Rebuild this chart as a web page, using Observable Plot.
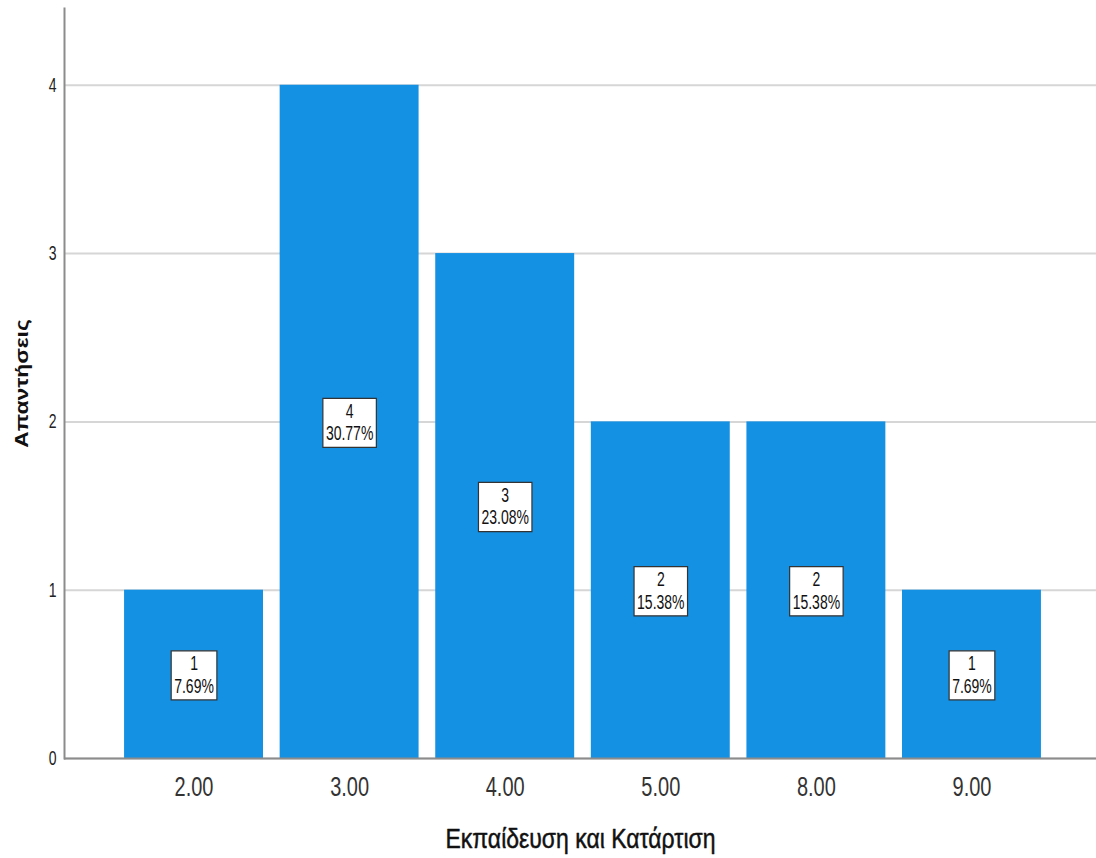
<!DOCTYPE html>
<html>
<head>
<meta charset="utf-8">
<script src="https://cdn.jsdelivr.net/npm/d3@7"></script>
<script src="https://cdn.jsdelivr.net/npm/@observablehq/plot@0.6"></script>
<style>
  body { margin: 0; background: #fff; }
  #chart svg { display: block; }
</style>
</head>
<body>
<div id="chart"></div>
<script>
// ---- data ----
const categories = ["2.00", "3.00", "4.00", "5.00", "8.00", "9.00"];
const counts = [1, 4, 3, 2, 2, 1];
const percents = ["7.69%", "30.77%", "23.08%", "15.38%", "15.38%", "7.69%"];
const yTicks = [0, 1, 2, 3, 4];
const xTitle = "Εκπαίδευση και Κατάρτιση";
const yTitle = "Απαντήσεις";

const data = categories.map((c, i) => ({ cat: c, n: counts[i], pct: percents[i] }));

const FONT = "'Liberation Sans', Arial, sans-serif";

const svg = Plot.plot({
  width: 1096,
  height: 858,
  marginLeft: 64,
  marginRight: 0,
  marginTop: 8,
  marginBottom: 100,
  style: { fontFamily: FONT, background: "#fff", color: "#222" },
  x: { domain: categories, range: [64, 1101], paddingInner: 0.107, paddingOuter: 0.386, round: false },
  y: { domain: [0, 4.456] },
  marks: [
    Plot.gridY(yTicks, { stroke: "#d6d6d6", strokeOpacity: 1, strokeWidth: 2 }),
    Plot.barY(data, { x: "cat", y: "n", fill: "#1591e4" }),
    Plot.ruleY([0], { stroke: "#8c8c8c", strokeWidth: 2 }),
    Plot.frame({ anchor: "left", stroke: "#8c8c8c", strokeWidth: 2 }),
    Plot.axisY(yTicks, { tickSize: 0, tickPadding: 8, fontSize: 14, label: null, tickFormat: d => String(d), fill: "#222" }),
    Plot.axisX({ tickSize: 0, tickPadding: 20, fontSize: 20, label: null, fill: "#333" }),
    // text marks (order matters for post-processing): y title, x title, value labels
    Plot.text([yTitle], { frameAnchor: "left", dx: -43, rotate: -90, textAnchor: "middle", lineAnchor: "middle", fontSize: 19, fontWeight: "bold", fill: "#111" }),
    Plot.text([xTitle], { frameAnchor: "bottom", dy: 81, textAnchor: "middle", lineAnchor: "middle", fontSize: 23, fill: "#111", stroke: "#111", strokeWidth: 0.4 }),
    Plot.text(data, { x: "cat", y: d => d.n / 2, text: d => `${d.n}\n${d.pct}`, fontSize: 14, lineHeight: 1.1, fill: "#111" })
  ]
});

document.getElementById("chart").appendChild(svg);

const NS = "http://www.w3.org/2000/svg";

// vertically stretch text (about its own centre) to mimic the tall, condensed look of the reference
function stretch(textEls, ky, box) {
  textEls.forEach(t => {
    const g = document.createElementNS(NS, "g");
    t.parentNode.insertBefore(g, t);
    g.appendChild(t);
    const bb = g.getBBox();
    const cx = bb.x + bb.width / 2, cy = bb.y + bb.height / 2;
    if (box) {
      const r = document.createElementNS(NS, "rect");
      r.setAttribute("x", bb.x - box.px);
      r.setAttribute("y", bb.y - box.pt);
      r.setAttribute("width", bb.width + 2 * box.px);
      r.setAttribute("height", bb.height + box.pt + box.pb);
      r.setAttribute("fill", "#fff");
      r.setAttribute("stroke", "#333");
      r.setAttribute("stroke-width", 1.2);
      r.setAttribute("vector-effect", "non-scaling-stroke");
      g.insertBefore(r, t);
    }
    g.setAttribute("transform", `translate(${cx},${cy}) scale(1,${ky}) translate(${-cx},${-cy})`);
  });
}

const textGroups = svg.querySelectorAll('g[aria-label="text"]');
stretch(svg.querySelectorAll('g[aria-label="y-axis tick label"] text'), 1.4);
stretch(svg.querySelectorAll('g[aria-label="x-axis tick label"] text'), 1.4);
stretch(textGroups[0].querySelectorAll("text"), 1.2);
stretch(textGroups[1].querySelectorAll("text"), 1.2);
stretch(textGroups[2].querySelectorAll("text"), 1.45, { px: 3, pt: 0.5, pb: 2 });
</script>
</body>
</html>
